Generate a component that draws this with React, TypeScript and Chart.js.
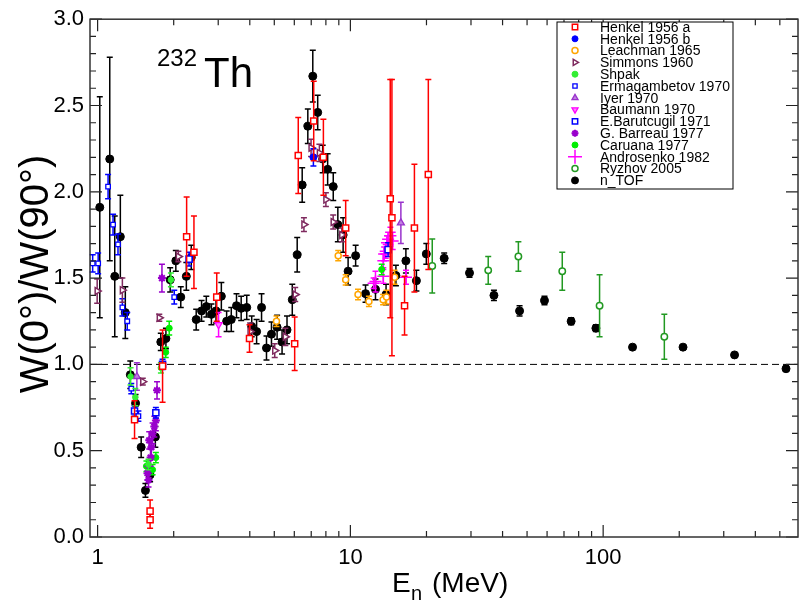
import React, { useEffect, useRef } from "react";
import { Chart, registerables } from "chart.js";
import { drawPoint } from "chart.js/helpers";

Chart.register(...registerables);

// [E (MeV), W(0)/W(90), error]
type Pt = [number, number, number];

const henkelA: Pt[] = [
  [1.40, 0.68, 0.11], [1.613, 0.15, 0.065], [1.613, 0.10, 0.05], [1.807, 0.99, 0.21],
  [2.25, 1.74, 0.23], [2.405, 1.65, 0.21], [2.96, 1.39, 0.14], [3.99, 1.15, 0.08],
  [6.02, 1.12, 0.155], [6.22, 2.21, 0.22], [7.16, 2.41, 0.23], [7.82, 2.20, 0.22],
  [9.58, 1.79, 0.16], [14.38, 1.96, 0.69], [14.6, 1.85, 0.80], [16.38, 1.34, 0.17],
  [17.92, 1.79, 0.37], [20.34, 2.10, 0.55],
];
const henkelB: Pt[] = [[7.14, 2.20, 0.05]];
const leachman: Pt[] = [
  [5.10, 1.25, 0.03], [8.95, 1.63, 0.03], [9.58, 1.49, 0.03], [10.72, 1.405, 0.03],
  [11.84, 1.365, 0.03], [13.47, 1.375, 0.03], [13.9, 1.39, 0.04], [14.96, 1.505, 0.04],
];
const simmons: Pt[] = [
  [0.996, 1.425, 0.07], [1.253, 1.43, 0.07], [1.509, 0.90, 0.02], [1.754, 1.27, 0.02],
  [2.087, 1.625, 0.03], [4.01, 1.19, 0.05], [5.02, 1.08, 0.04], [5.53, 1.16, 0.05],
  [6.05, 1.405, 0.04], [6.55, 1.81, 0.04], [6.99, 2.255, 0.05], [7.54, 2.225, 0.05],
  [8.0, 1.955, 0.04], [8.55, 1.825, 0.04], [9.25, 1.75, 0.04],
];
const shpak: Pt[] = [
  [1.35, 0.93, 0.05], [1.41, 0.81, 0.05], [1.59, 0.42, 0.03], [1.78, 0.98, 0.03], [1.95, 1.49, 0.04],
];
const ermagambetov: Pt[] = [
  [0.956, 1.585, 0.05], [1.005, 1.585, 0.06], [1.10, 2.03, 0.07], [1.151, 1.81, 0.06],
  [1.204, 1.695, 0.06], [1.253, 1.33, 0.05], [1.31, 1.25, 0.05], [1.359, 0.86, 0.03],
  [1.45, 0.70, 0.03], [2.01, 1.39, 0.04],
];
const iyer: Pt[] = [[1.43, 0.93, 0.08], [15.84, 1.82, 0.12]];
const baumann: Pt[] = [[3.01, 1.23, 0.07]];
const barutcugil: Pt[] = [
  [1.40, 0.73, 0.03], [1.70, 0.72, 0.03], [1.807, 1.0, 0.03], [2.30, 1.61, 0.04], [14.1, 1.665, 0.04],
];
const barreau: Pt[] = [
  [1.575, 0.37, 0.04], [1.59, 0.33, 0.04], [1.60, 0.56, 0.05], [1.62, 0.46, 0.05],
  [1.632, 0.52, 0.05], [1.65, 0.60, 0.06], [1.676, 0.64, 0.06], [1.70, 0.675, 0.06],
  [1.718, 0.85, 0.05], [1.797, 1.50, 0.08],
];
const caruana: Pt[] = [
  [1.56, 0.41, 0.03], [1.65, 0.39, 0.03], [1.70, 0.46, 0.03], [1.86, 1.07, 0.03],
  [1.92, 1.21, 0.04], [13.3, 1.55, 0.03],
];
const androsenko: Pt[] = [
  [12.36, 1.47, 0.03], [12.57, 1.48, 0.06], [13.5, 1.51, 0.04], [13.5, 1.60, 0.04],
  [13.6, 1.64, 0.04], [13.8, 1.655, 0.04], [13.96, 1.705, 0.04], [14.1, 1.725, 0.04],
  [14.4, 1.745, 0.05], [14.7, 1.715, 0.05], [16.6, 1.505, 0.04],
];
const ryzhov: Pt[] = [
  [21.08, 1.57, 0.156], [35.1, 1.545, 0.08], [46.2, 1.625, 0.085], [68.9, 1.54, 0.11],
  [96.8, 1.34, 0.18], [174.6, 1.16, 0.13],
];
const nTOF: Pt[] = [
  [1.02, 1.91, 0.64], [1.117, 2.19, 0.59], [1.169, 1.51, 0.35], [1.23, 1.74, 0.24],
  [1.287, 1.30, 0.15], [1.347, 0.94, 0.08], [1.413, 0.775, 0.05], [1.487, 0.52, 0.06],
  [1.546, 0.27, 0.04], [1.613, 0.36, 0.04], [1.692, 0.58, 0.06], [1.778, 1.13, 0.05],
  [1.863, 1.15, 0.06], [1.937, 1.49, 0.07], [2.039, 1.60, 0.06], [2.133, 1.39, 0.06],
  [2.244, 1.51, 0.08], [2.347, 1.62, 0.07], [2.455, 1.26, 0.06], [2.578, 1.31, 0.06],
  [2.692, 1.335, 0.06], [2.82, 1.29, 0.06], [2.94, 1.31, 0.07], [3.087, 1.395, 0.08],
  [3.239, 1.25, 0.06], [3.379, 1.26, 0.07], [3.544, 1.34, 0.07], [3.698, 1.325, 0.07],
  [3.89, 1.33, 0.07], [4.07, 1.22, 0.06], [4.256, 1.19, 0.07], [4.452, 1.33, 0.08],
  [4.657, 1.095, 0.07], [4.873, 1.175, 0.07], [5.13, 1.215, 0.07], [5.367, 1.13, 0.07],
  [5.614, 1.20, 0.08], [5.89, 1.375, 0.09], [6.16, 1.635, 0.1], [6.447, 2.04, 0.1],
  [6.786, 2.38, 0.1], [7.10, 2.67, 0.15], [7.425, 2.46, 0.1], [7.77, 2.19, 0.08],
  [8.13, 2.13, 0.09], [8.555, 2.03, 0.08], [8.92, 1.81, 0.1], [9.36, 1.75, 0.1],
  [9.795, 1.54, 0.08], [10.49, 1.63, 0.06], [11.48, 1.41, 0.05], [12.57, 1.435, 0.06],
  [13.84, 1.405, 0.06], [15.14, 1.515, 0.06], [16.58, 1.60, 0.07], [18.25, 1.485, 0.06],
  [19.97, 1.64, 0.06], [23.5, 1.615, 0.03], [29.6, 1.53, 0.025], [36.98, 1.40, 0.03],
  [46.7, 1.31, 0.03], [58.6, 1.37, 0.025], [74.7, 1.25, 0.02], [93.6, 1.21, 0.02],
  [130.7, 1.10, 0.01], [207, 1.10, 0.01], [331, 1.055, 0.01], [529, 0.975, 0.015],
];

const xMin = 0.933;
const xMax = 590;
const yMin = 0;
const yMax = 3;
const yStep = 0.5;
const yMinorStep = 0.1;
const xTickLabels = [1, 10, 100];
const refLine = 1.0;

const FONT = "'Liberation Sans', Arial, Helvetica, sans-serif";

type Series = {
  label: string; data: Pt[]; color: string; fill: string;
  style: string; radius: number; rot: number; bw: number;
};

const seriesList: Series[] = [
  { label: "Henkel 1956 a", data: henkelA, color: "#ff0000", fill: "#ffffff", style: "rect", radius: 4.3, rot: 0, bw: 1.5 },
  { label: "Henkel 1956 b", data: henkelB, color: "#0000ff", fill: "#0000ff", style: "circle", radius: 3.5, rot: 0, bw: 1 },
  { label: "Leachman 1965", data: leachman, color: "#ffa500", fill: "#ffffff", style: "circle", radius: 3, rot: 0, bw: 1.5 },
  { label: "Simmons 1960", data: simmons, color: "#7f2a5f", fill: "#ffffff", style: "triangle", radius: 4, rot: 90, bw: 1.5 },
  { label: "Shpak", data: shpak, color: "#33ee33", fill: "#33ee33", style: "circle", radius: 2.8, rot: 0, bw: 1 },
  { label: "Ermagambetov 1970", data: ermagambetov, color: "#0000ff", fill: "#ffffff", style: "rect", radius: 3.2, rot: 0, bw: 1.3 },
  { label: "Iyer 1970", data: iyer, color: "#9933cc", fill: "#c080e0", style: "triangle", radius: 4, rot: 0, bw: 1.3 },
  { label: "Baumann 1970", data: baumann, color: "#ff00ff", fill: "#ff80ff", style: "triangle", radius: 4, rot: 180, bw: 1.3 },
  { label: "E.Barutcugil 1971", data: barutcugil, color: "#0000ff", fill: "#ffffff", style: "rect", radius: 4.3, rot: 0, bw: 1.5 },
  { label: "G. Barreau 1977", data: barreau, color: "#9900cc", fill: "#9900cc", style: "star", radius: 4, rot: 0, bw: 2 },
  { label: "Caruana 1977", data: caruana, color: "#00ee00", fill: "#00ee00", style: "circle", radius: 3, rot: 0, bw: 1 },
  { label: "Androsenko 1982", data: androsenko, color: "#ff00ff", fill: "#ff00ff", style: "cross", radius: 6, rot: 0, bw: 1.5 },
  { label: "Ryzhov 2005", data: ryzhov, color: "#229922", fill: "#ffffff", style: "circle", radius: 3.2, rot: 0, bw: 1.5 },
  { label: "n_TOF", data: nTOF, color: "#000000", fill: "#000000", style: "circle", radius: 4, rot: 0, bw: 1 },
];

const errorBarPlugin = {
  id: "errorBars",
  beforeDatasetDraw(chart: any, args: any) {
    const ds = chart.data.datasets[args.index];
    const ys = chart.scales.y;
    const ctx = chart.ctx;
    ctx.save();
    ctx.strokeStyle = ds.pointBorderColor;
    ctx.lineWidth = 1.5;
    args.meta.data.forEach((el: any, i: number) => {
      const raw = ds.data[i];
      const top = ys.getPixelForValue(raw.y + raw.e);
      const bot = ys.getPixelForValue(raw.y - raw.e);
      ctx.beginPath();
      ctx.moveTo(el.x, top); ctx.lineTo(el.x, bot);
      ctx.moveTo(el.x - 3, top); ctx.lineTo(el.x + 3, top);
      ctx.moveTo(el.x - 3, bot); ctx.lineTo(el.x + 3, bot);
      ctx.stroke();
    });
    ctx.restore();
  },
};

const decorPlugin = {
  id: "decor",
  beforeDatasetsDraw(chart: any) {
    const ctx = chart.ctx;
    const ca = chart.chartArea;
    const py = chart.scales.y.getPixelForValue(refLine);
    ctx.save();
    ctx.strokeStyle = "#000";
    ctx.lineWidth = 1;
    ctx.setLineDash([7, 4]);
    ctx.beginPath();
    ctx.moveTo(ca.left, py); ctx.lineTo(ca.right, py);
    ctx.stroke();
    ctx.restore();
  },
  afterDraw(chart: any) {
    const ctx = chart.ctx;
    const ca = chart.chartArea;
    const xs = chart.scales.x;
    const ys = chart.scales.y;
    ctx.save();
    // ticks
    ctx.strokeStyle = "#222";
    ctx.lineWidth = 1.2;
    ctx.beginPath();
    for (let k = -1; k <= 3; k++) {
      for (let m = 1; m <= 9; m++) {
        const v = m * Math.pow(10, k);
        if (v < xMin || v > xMax) continue;
        const p = xs.getPixelForValue(v);
        const len = m === 1 ? 12 : 6;
        ctx.moveTo(p, ca.bottom); ctx.lineTo(p, ca.bottom - len);
        ctx.moveTo(p, ca.top); ctx.lineTo(p, ca.top + len);
      }
    }
    const nMinor = Math.round((yMax - yMin) / yMinorStep);
    const per = Math.round(yStep / yMinorStep);
    for (let i = 0; i <= nMinor; i++) {
      const v = yMin + i * yMinorStep;
      const p = ys.getPixelForValue(v);
      const len = i % per === 0 ? 12 : 6;
      ctx.moveTo(ca.left, p); ctx.lineTo(ca.left + len, p);
      ctx.moveTo(ca.right, p); ctx.lineTo(ca.right - len, p);
    }
    ctx.stroke();
    // frame
    ctx.strokeStyle = "#333";
    ctx.lineWidth = 1.5;
    ctx.strokeRect(ca.left, ca.top, ca.right - ca.left, ca.bottom - ca.top);

    // annotation 232Th
    ctx.fillStyle = "#000";
    ctx.textBaseline = "alphabetic";
    ctx.textAlign = "left";
    ctx.font = `24px ${FONT}`;
    ctx.fillText("232", 157, 66);
    ctx.font = `42px ${FONT}`;
    ctx.fillText("Th", 204, 87);

    // axis titles
    ctx.font = `28px ${FONT}`;
    ctx.fillText("E", 392, 592);
    ctx.font = `20px ${FONT}`;
    ctx.fillText("n", 411, 600);
    ctx.font = `28px ${FONT}`;
    ctx.fillText("(MeV)", 432, 592);

    ctx.save();
    ctx.translate(37, 274);
    ctx.rotate(-Math.PI / 2);
    ctx.textAlign = "center";
    ctx.textBaseline = "middle";
    ctx.font = `40px ${FONT}`;
    ctx.fillText("W(0°)/W(90°)", 0, 0);
    ctx.restore();

    // legend
    const lx = 557, ly = 22, lw = 176, lh = 167;
    ctx.fillStyle = "#fff";
    ctx.fillRect(lx, ly, lw, lh);
    ctx.strokeStyle = "#000";
    ctx.lineWidth = 1;
    ctx.strokeRect(lx, ly, lw, lh);
    ctx.font = `14px ${FONT}`;
    ctx.textBaseline = "middle";
    ctx.textAlign = "left";
    seriesList.forEach((s, i) => {
      const y = ly + 5 + i * 11.8;
      ctx.fillStyle = s.fill;
      ctx.strokeStyle = s.color;
      ctx.lineWidth = s.bw;
      drawPoint(ctx, {
        pointStyle: s.style, rotation: s.rot,
        radius: s.style === "cross" ? 7 : Math.max(3, s.radius - 0.5), borderWidth: s.bw,
      } as any, 575, y);
      ctx.fillStyle = "#000";
      ctx.fillText(s.label, 600, y + 1);
    });
    ctx.restore();
  },
};

export default function App() {
  const ref = useRef<HTMLCanvasElement | null>(null);
  useEffect(() => {
    document.body.style.margin = "0";
    const canvas = ref.current;
    if (!canvas) return;
    const datasets = seriesList.map((s) => ({
      label: s.label,
      data: s.data.map(([x, y, e]) => ({ x, y, e })),
      showLine: false,
      pointStyle: s.style,
      pointRadius: s.radius,
      pointHoverRadius: s.radius,
      pointBackgroundColor: s.fill,
      pointBorderColor: s.color,
      pointBorderWidth: s.bw,
      pointRotation: s.rot,
    }));
    const chart = new Chart(canvas, {
      type: "scatter",
      data: { datasets: datasets as any },
      plugins: [errorBarPlugin, decorPlugin],
      options: {
        animation: false,
        responsive: false,
        devicePixelRatio: 1,
        layout: { padding: { left: 0, right: 1, top: 17, bottom: 0 } },
        plugins: { legend: { display: false }, tooltip: { enabled: false } },
        scales: {
          x: {
            type: "logarithmic",
            min: xMin,
            max: xMax,
            grid: { display: false, drawTicks: false },
            border: { display: false },
            afterFit: (sc: any) => { sc.height = 63; },
            ticks: {
              autoSkip: false,
              maxRotation: 0,
              padding: 8,
              color: "#000",
              font: { family: FONT, size: 22 },
              callback: (v: any) => {
                const n = Number(v);
                return xTickLabels.some((t) => Math.abs(t - n) < 1e-6 * t) ? String(Math.round(n)) : "";
              },
            },
          },
          y: {
            type: "linear",
            min: yMin,
            max: yMax,
            grid: { display: false, drawTicks: false },
            border: { display: false },
            afterFit: (sc: any) => { sc.width = 90; },
            ticks: {
              stepSize: yStep,
              padding: 6,
              color: "#000",
              font: { family: FONT, size: 22 },
              callback: (v: any) => Number(v).toFixed(1),
            },
          },
        },
      },
    });
    return () => chart.destroy();
  }, []);
  return (
    <div style={{ width: 806, height: 600 }}>
      <canvas ref={ref} width={806} height={600} style={{ display: "block" }} />
    </div>
  );
}
